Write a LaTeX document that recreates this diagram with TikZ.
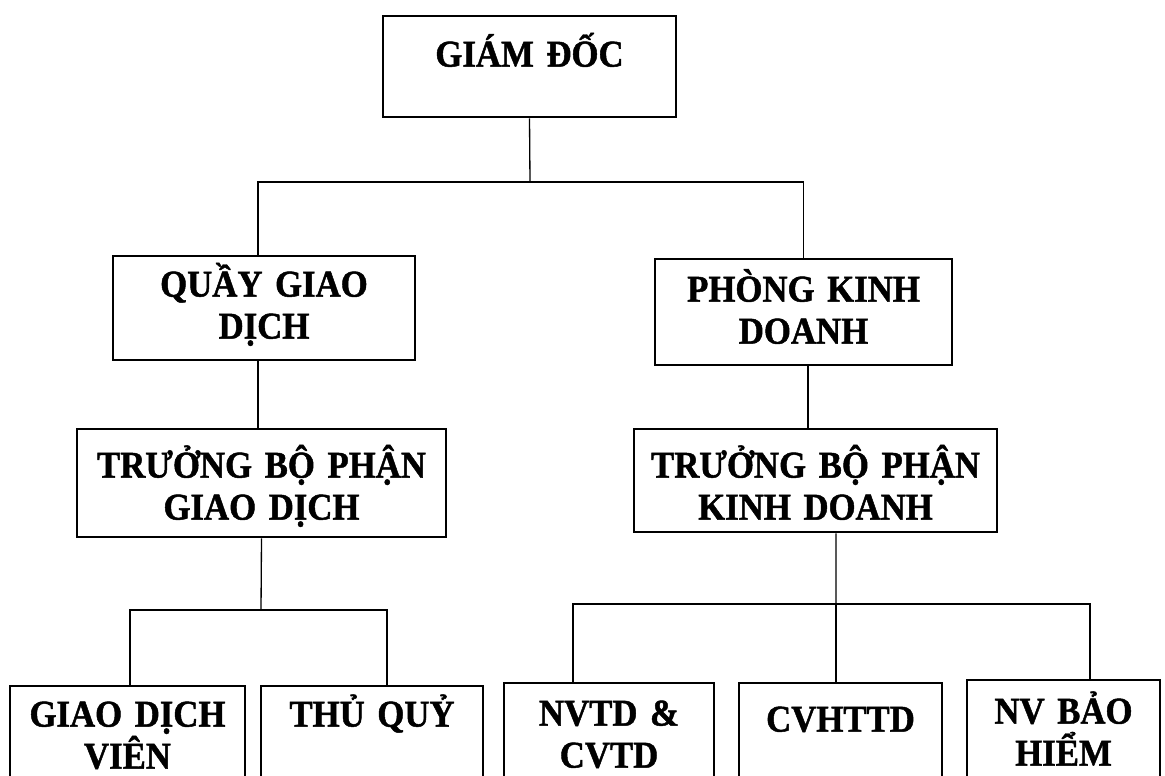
\documentclass[tikz,border=0pt]{standalone}
\usepackage{fontspec}
\setmainfont{Liberation Serif}[FakeStretch=0.92,FakeBold=1.2]
\begin{document}
\begin{tikzpicture}[x=0.02cm,y=-0.02cm]
  \tikzstyle{box}=[draw,rectangle,line width=1.6pt,inner sep=0pt]
  \tikzstyle{txt}=[anchor=base,inner sep=0pt,text width=7cm,align=center,
    font=\bfseries\fontsize{21.5}{23.9}\selectfont]
  \tikzstyle{conn}=[line width=0.75pt]
  \useasboundingbox (0,0) rectangle (1165,776);
  % top
  \node[box,minimum width=5.86cm,minimum height=2.02cm,
    label={[txt,yshift=-1.04cm]north:GIÁM ĐỐC}] (gd) at (529.5,66.5) {};
  % second row
  \node[box,minimum width=6.04cm,minimum height=2.08cm,
    label={[txt,yshift=-0.84cm]north:{QUẦY GIAO\\DỊCH}}] (qgd) at (264,308) {};
  \node[box,minimum width=5.94cm,minimum height=2.12cm,
    label={[txt,yshift=-0.88cm]north:{PHÒNG KINH\\DOANH}}] (pkd) at (803.5,312) {};
  % third row
  \node[box,minimum width=7.38cm,minimum height=2.16cm,
    label={[txt,yshift=-1.0cm]north:{TRƯỞNG BỘ PHẬN\\GIAO DỊCH}}] (tgd) at (261.5,483) {};
  \node[box,minimum width=7.26cm,minimum height=2.06cm,
    label={[txt,yshift=-1.0cm]north:{TRƯỞNG BỘ PHẬN\\KINH DOANH}}] (tkd) at (815.5,480.5) {};
  % bottom row
  \node[box,minimum width=4.7cm,minimum height=2.4cm,
    label={[txt,yshift=-0.84cm]north:{GIAO DỊCH\\VIÊN}}] (gdv) at (127.5,746) {};
  \node[box,minimum width=4.44cm,minimum height=2.4cm,
    label={[txt,yshift=-0.84cm]north:THỦ QUỶ}] (tq) at (372,746) {};
  \node[box,minimum width=4.2cm,minimum height=2.4cm,
    label={[txt,yshift=-0.88cm]north:{NVTD \&\\CVTD}}] (nvtd) at (609,743) {};
  \node[box,minimum width=4.06cm,minimum height=2.4cm,
    label={[txt,yshift=-1.0cm]north:CVHTTD}] (cvhttd) at (840.5,743) {};
  \node[box,minimum width=3.86cm,minimum height=2.4cm,
    label={[txt,yshift=-0.9cm]north:{NV BẢO\\HIỂM}}] (nvbh) at (1063.5,740) {};
  % connectors
  \coordinate (top) at (530,182);
  \coordinate (left) at (261,610);
  \coordinate (right) at (836,604);
  \draw[conn] (gd.south) -- (top);
  \draw[conn] (qgd.north) ++(-6,0) |- (top) -| (pkd.north);
  \draw[conn] (qgd.south) ++(-6,0) coordinate (q1) -- (q1 |- tgd.north);
  \draw[conn] (pkd.south) ++(4.5,0) coordinate (p1) -- (p1 |- tkd.north);
  \draw[conn] (tgd.south) -- (left);
  \draw[conn] (gdv.north) ++(2.5,0) |- (left) -| ([xshift=0.3cm]tq.north);
  \draw[conn] (tkd.south) ++(20.5,0) -- (right);
  \draw[conn] (nvtd.north) ++(-36,0) |- (right) -| ([xshift=0.53cm]nvbh.north);
  \draw[conn] (right) -- (right |- cvhttd.north);
\end{tikzpicture}
\end{document}
